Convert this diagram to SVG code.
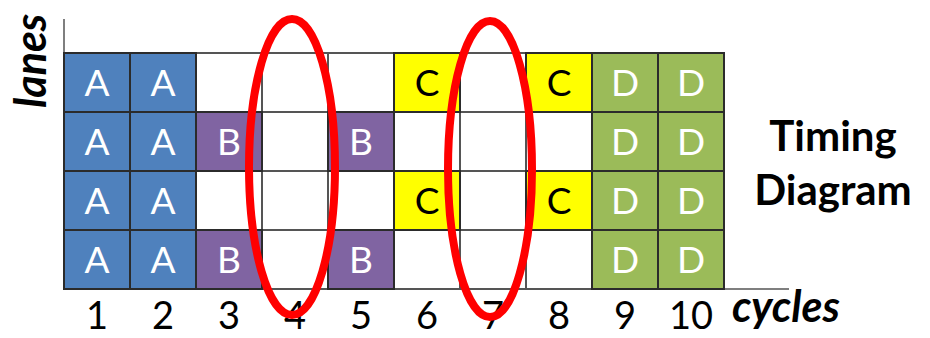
<svg xmlns="http://www.w3.org/2000/svg" width="930" height="338" viewBox="0 0 930 338">
  <style>
    .cell { stroke: #2b2b2b; stroke-width: 2; }
    .empty { fill: #ffffff; stroke: #555555; stroke-width: 2; }
    .a { fill: #4f81bd; }
    .b { fill: #8064a2; }
    .c { fill: #ffff00; }
    .d { fill: #9bbb59; }
    .lbl { font-family: Lato, "Open Sans", "Liberation Sans", sans-serif; font-size: 37px; text-anchor: middle; }
    .light { fill: #ffffff; }
    .dark { fill: #000000; }
    .num { font-family: Lato, "Open Sans", "Liberation Sans", sans-serif; font-size: 38px; text-anchor: middle; fill: #000; }
    .title { font-family: Lato, "Open Sans", "Liberation Sans", sans-serif; font-size: 42px; font-weight: bold; text-anchor: middle; fill: #000; }
    .axisname { font-family: Lato, "Open Sans", "Liberation Sans", sans-serif; font-size: 43px; font-weight: bold; font-style: italic; fill: #000; }
    .axis { stroke: #555555; stroke-width: 1.5; fill: none; }
    .ring { fill: none; stroke: #ff0000; stroke-width: 8; }
  </style>

  <!-- axes -->
  <g id="axes">
    <line class="axis" x1="64" y1="19" x2="64" y2="289"/>
    <line class="axis" x1="64" y1="289" x2="789" y2="289"/>
    <text class="axisname" transform="translate(46,108) rotate(-90)">lanes</text>
    <text class="axisname" x="732" y="322">cycles</text>
  </g>

  <!-- empty slots -->
  <g id="empty-slots">
    <rect class="empty" x="196" y="53" width="66" height="59"/>
    <rect class="empty" x="262" y="53" width="66" height="59"/>
    <rect class="empty" x="328" y="53" width="66" height="59"/>
    <rect class="empty" x="460" y="53" width="66" height="59"/>
    <rect class="empty" x="262" y="112" width="66" height="59"/>
    <rect class="empty" x="394" y="112" width="66" height="59"/>
    <rect class="empty" x="460" y="112" width="66" height="59"/>
    <rect class="empty" x="526" y="112" width="66" height="59"/>
    <rect class="empty" x="196" y="171" width="66" height="59"/>
    <rect class="empty" x="262" y="171" width="66" height="59"/>
    <rect class="empty" x="328" y="171" width="66" height="59"/>
    <rect class="empty" x="460" y="171" width="66" height="59"/>
    <rect class="empty" x="262" y="230" width="66" height="59"/>
    <rect class="empty" x="394" y="230" width="66" height="59"/>
    <rect class="empty" x="460" y="230" width="66" height="59"/>
    <rect class="empty" x="526" y="230" width="66" height="59"/>
  </g>

  <!-- instruction A -->
  <g id="op-A">
    <rect class="cell a" x="64" y="53" width="66" height="59"/>
    <rect class="cell a" x="130" y="53" width="66" height="59"/>
    <rect class="cell a" x="64" y="112" width="66" height="59"/>
    <rect class="cell a" x="130" y="112" width="66" height="59"/>
    <rect class="cell a" x="64" y="171" width="66" height="59"/>
    <rect class="cell a" x="130" y="171" width="66" height="59"/>
    <rect class="cell a" x="64" y="230" width="66" height="59"/>
    <rect class="cell a" x="130" y="230" width="66" height="59"/>
    <text class="lbl light" x="97" y="96">A</text>
    <text class="lbl light" x="163" y="96">A</text>
    <text class="lbl light" x="97" y="155">A</text>
    <text class="lbl light" x="163" y="155">A</text>
    <text class="lbl light" x="97" y="214">A</text>
    <text class="lbl light" x="163" y="214">A</text>
    <text class="lbl light" x="97" y="273">A</text>
    <text class="lbl light" x="163" y="273">A</text>
  </g>

  <!-- instruction B -->
  <g id="op-B">
    <rect class="cell b" x="196" y="112" width="66" height="59"/>
    <rect class="cell b" x="328" y="112" width="66" height="59"/>
    <rect class="cell b" x="196" y="230" width="66" height="59"/>
    <rect class="cell b" x="328" y="230" width="66" height="59"/>
    <text class="lbl light" x="229" y="155">B</text>
    <text class="lbl light" x="361" y="155">B</text>
    <text class="lbl light" x="229" y="273">B</text>
    <text class="lbl light" x="361" y="273">B</text>
  </g>

  <!-- instruction C -->
  <g id="op-C">
    <rect class="cell c" x="394" y="53" width="66" height="59"/>
    <rect class="cell c" x="526" y="53" width="66" height="59"/>
    <rect class="cell c" x="394" y="171" width="66" height="59"/>
    <rect class="cell c" x="526" y="171" width="66" height="59"/>
    <text class="lbl dark" x="427" y="96">C</text>
    <text class="lbl dark" x="559" y="96">C</text>
    <text class="lbl dark" x="427" y="214">C</text>
    <text class="lbl dark" x="559" y="214">C</text>
  </g>

  <!-- instruction D -->
  <g id="op-D">
    <rect class="cell d" x="592" y="53" width="66" height="59"/>
    <rect class="cell d" x="658" y="53" width="66" height="59"/>
    <rect class="cell d" x="592" y="112" width="66" height="59"/>
    <rect class="cell d" x="658" y="112" width="66" height="59"/>
    <rect class="cell d" x="592" y="171" width="66" height="59"/>
    <rect class="cell d" x="658" y="171" width="66" height="59"/>
    <rect class="cell d" x="592" y="230" width="66" height="59"/>
    <rect class="cell d" x="658" y="230" width="66" height="59"/>
    <text class="lbl light" x="625" y="96">D</text>
    <text class="lbl light" x="691" y="96">D</text>
    <text class="lbl light" x="625" y="155">D</text>
    <text class="lbl light" x="691" y="155">D</text>
    <text class="lbl light" x="625" y="214">D</text>
    <text class="lbl light" x="691" y="214">D</text>
    <text class="lbl light" x="625" y="273">D</text>
    <text class="lbl light" x="691" y="273">D</text>
  </g>

  <!-- cycle numbers -->
  <g id="cycle-numbers">
    <text class="num" x="97" y="329">1</text>
    <text class="num" x="163" y="329">2</text>
    <text class="num" x="229" y="329">3</text>
    <text class="num" x="295" y="329">4</text>
    <text class="num" x="361" y="329">5</text>
    <text class="num" x="427" y="329">6</text>
    <text class="num" x="493" y="329">7</text>
    <text class="num" x="559" y="329">8</text>
    <text class="num" x="625" y="329">9</text>
    <text class="num" x="691" y="329">10</text>
  </g>

  <!-- idle cycles highlighted -->
  <g id="idle-marks">
    <ellipse class="ring" cx="292" cy="167" rx="43" ry="148"/>
    <ellipse class="ring" cx="490" cy="169" rx="42" ry="148"/>
  </g>

  <g id="title">
    <text class="title" x="833" y="151">Timing</text>
    <text class="title" x="833" y="205">Diagram</text>
  </g>
</svg>
